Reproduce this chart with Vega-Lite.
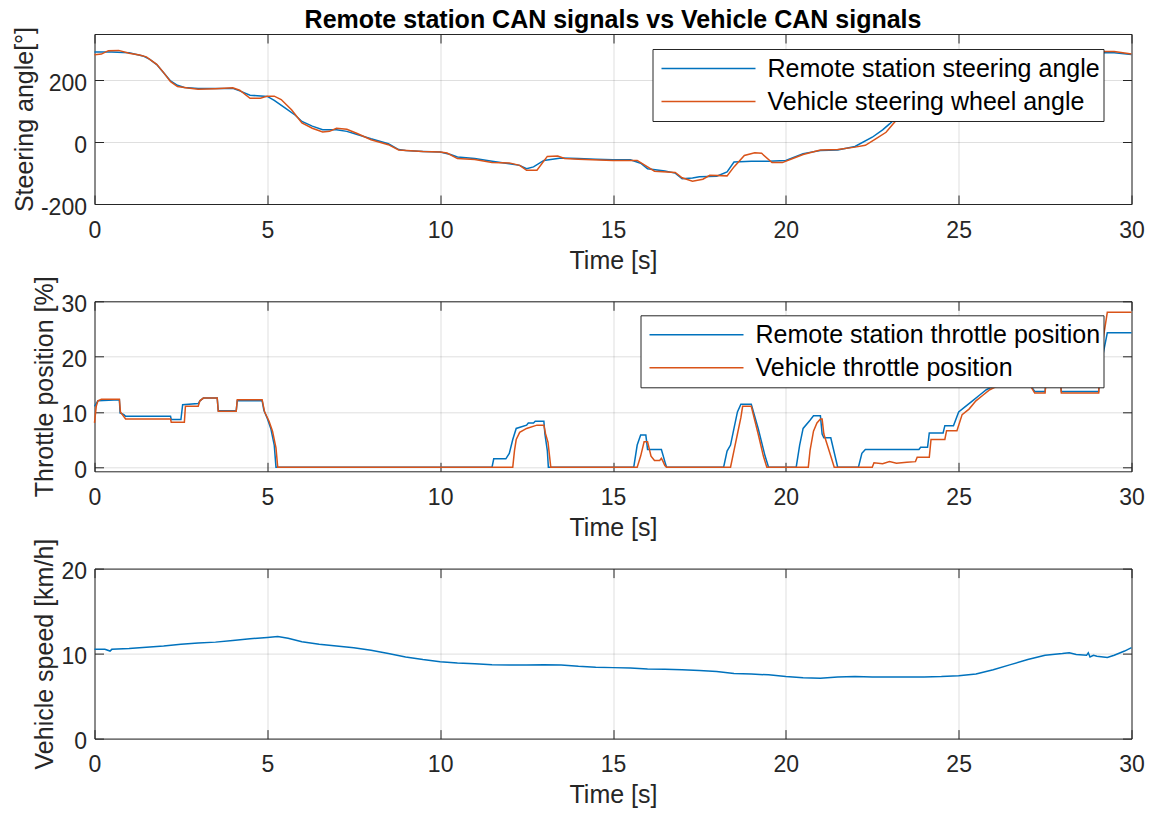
{
  "$schema": "https://vega.github.io/schema/vega-lite/v6.json",
  "padding": {"left": 11.5, "top": 7, "right": 5, "bottom": 5},
  "background": "white",
  "bounds": "flush",
  "spacing": 97.3,
  "resolve": {"scale": {"color": "independent"}, "legend": {"color": "independent"}},
  "config": {
    "font": "Liberation Sans",
    "view": {"stroke": "#262626", "strokeWidth": 1},
    "axis": {
      "labelFont": "Liberation Sans", "labelFontSize": 23, "labelColor": "#262626",
      "titleFont": "Liberation Sans", "titleFontSize": 25, "titleFontWeight": "normal", "titleColor": "#262626",
      "gridColor": "#262626", "gridOpacity": 0.15, "gridWidth": 1,
      "domain": false, "tickColor": "#262626", "tickSize": -9, "tickWidth": 1,
      "labelFlush": false, "labelOverlap": false, "labelBound": false,
      "labelExpr": "replace(datum.label, '\u2212', '-')"
    },
    "legend": {
      "orient": "none", "title": null, "symbolType": "stroke", "symbolSize": 8836, "symbolStrokeWidth": 1.5,
      "symbolOffset": 5, "labelOffset": 11, "labelFont": "Liberation Sans", "labelFontSize": 25, "labelColor": "#000000",
      "clipHeight": 33, "rowPadding": 0, "padding": 3, "strokeColor": "#262626", "fillColor": "white",
      "labelLimit": 1000, "labelExpr": "datum.label + ' '"
    }
  },
  "datasets": {
    "steer": [
      {"t":0,"v":292,"s":"Remote station steering angle"},{"t":0.5,"v":292,"s":"Remote station steering angle"},{"t":1.0,"v":289,"s":"Remote station steering angle"},{"t":1.4,"v":279,"s":"Remote station steering angle"},{"t":1.6,"v":268,"s":"Remote station steering angle"},{"t":1.8,"v":251,"s":"Remote station steering angle"},{"t":2.0,"v":225,"s":"Remote station steering angle"},{"t":2.2,"v":198,"s":"Remote station steering angle"},{"t":2.4,"v":184,"s":"Remote station steering angle"},{"t":2.6,"v":177,"s":"Remote station steering angle"},{"t":3.0,"v":174,"s":"Remote station steering angle"},{"t":3.5,"v":174,"s":"Remote station steering angle"},{"t":4.0,"v":174,"s":"Remote station steering angle"},{"t":4.2,"v":166,"s":"Remote station steering angle"},{"t":4.5,"v":152,"s":"Remote station steering angle"},{"t":5.0,"v":148,"s":"Remote station steering angle"},{"t":5.2,"v":135,"s":"Remote station steering angle"},{"t":5.5,"v":112,"s":"Remote station steering angle"},{"t":5.8,"v":88,"s":"Remote station steering angle"},{"t":6.0,"v":67,"s":"Remote station steering angle"},{"t":6.3,"v":52,"s":"Remote station steering angle"},{"t":6.6,"v":40,"s":"Remote station steering angle"},{"t":7.0,"v":40,"s":"Remote station steering angle"},{"t":7.3,"v":35,"s":"Remote station steering angle"},{"t":7.6,"v":25,"s":"Remote station steering angle"},{"t":8.0,"v":11,"s":"Remote station steering angle"},{"t":8.5,"v":-5,"s":"Remote station steering angle"},{"t":8.8,"v":-24,"s":"Remote station steering angle"},{"t":9.0,"v":-27,"s":"Remote station steering angle"},{"t":9.5,"v":-30,"s":"Remote station steering angle"},{"t":10.0,"v":-32,"s":"Remote station steering angle"},{"t":10.3,"v":-40,"s":"Remote station steering angle"},{"t":10.5,"v":-48,"s":"Remote station steering angle"},{"t":11.0,"v":-53,"s":"Remote station steering angle"},{"t":11.5,"v":-62,"s":"Remote station steering angle"},{"t":12.0,"v":-70,"s":"Remote station steering angle"},{"t":12.3,"v":-75,"s":"Remote station steering angle"},{"t":12.5,"v":-86,"s":"Remote station steering angle"},{"t":12.7,"v":-80,"s":"Remote station steering angle"},{"t":13.0,"v":-59,"s":"Remote station steering angle"},{"t":13.5,"v":-51,"s":"Remote station steering angle"},{"t":14.0,"v":-53,"s":"Remote station steering angle"},{"t":14.5,"v":-55,"s":"Remote station steering angle"},{"t":15.0,"v":-57,"s":"Remote station steering angle"},{"t":15.5,"v":-57,"s":"Remote station steering angle"},{"t":15.8,"v":-68,"s":"Remote station steering angle"},{"t":16.0,"v":-86,"s":"Remote station steering angle"},{"t":16.5,"v":-93,"s":"Remote station steering angle"},{"t":16.8,"v":-100,"s":"Remote station steering angle"},{"t":17.0,"v":-118,"s":"Remote station steering angle"},{"t":17.3,"v":-116,"s":"Remote station steering angle"},{"t":17.5,"v":-112,"s":"Remote station steering angle"},{"t":18.0,"v":-110,"s":"Remote station steering angle"},{"t":18.3,"v":-96,"s":"Remote station steering angle"},{"t":18.5,"v":-64,"s":"Remote station steering angle"},{"t":19.0,"v":-62,"s":"Remote station steering angle"},{"t":19.5,"v":-62,"s":"Remote station steering angle"},{"t":20.0,"v":-59,"s":"Remote station steering angle"},{"t":20.5,"v":-37,"s":"Remote station steering angle"},{"t":21.0,"v":-27,"s":"Remote station steering angle"},{"t":21.5,"v":-25,"s":"Remote station steering angle"},{"t":22.0,"v":-14,"s":"Remote station steering angle"},{"t":22.5,"v":16,"s":"Remote station steering angle"},{"t":22.8,"v":40,"s":"Remote station steering angle"},{"t":23.0,"v":59,"s":"Remote station steering angle"},{"t":23.3,"v":90,"s":"Remote station steering angle"},{"t":23.6,"v":130,"s":"Remote station steering angle"},{"t":24.0,"v":180,"s":"Remote station steering angle"},{"t":24.5,"v":240,"s":"Remote station steering angle"},{"t":25.0,"v":275,"s":"Remote station steering angle"},{"t":25.5,"v":286,"s":"Remote station steering angle"},{"t":26.0,"v":288,"s":"Remote station steering angle"},{"t":27.0,"v":289,"s":"Remote station steering angle"},{"t":28.0,"v":289,"s":"Remote station steering angle"},{"t":29.0,"v":290,"s":"Remote station steering angle"},{"t":29.5,"v":289,"s":"Remote station steering angle"},{"t":30.0,"v":284,"s":"Remote station steering angle"},
      {"t":0,"v":283,"s":"Vehicle steering wheel angle"},{"t":0.2,"v":285,"s":"Vehicle steering wheel angle"},{"t":0.4,"v":296,"s":"Vehicle steering wheel angle"},{"t":0.7,"v":297,"s":"Vehicle steering wheel angle"},{"t":1.0,"v":288,"s":"Vehicle steering wheel angle"},{"t":1.3,"v":282,"s":"Vehicle steering wheel angle"},{"t":1.5,"v":276,"s":"Vehicle steering wheel angle"},{"t":1.8,"v":252,"s":"Vehicle steering wheel angle"},{"t":2.0,"v":225,"s":"Vehicle steering wheel angle"},{"t":2.2,"v":196,"s":"Vehicle steering wheel angle"},{"t":2.4,"v":180,"s":"Vehicle steering wheel angle"},{"t":2.7,"v":175,"s":"Vehicle steering wheel angle"},{"t":3.0,"v":171,"s":"Vehicle steering wheel angle"},{"t":3.5,"v":173,"s":"Vehicle steering wheel angle"},{"t":4.0,"v":176,"s":"Vehicle steering wheel angle"},{"t":4.2,"v":168,"s":"Vehicle steering wheel angle"},{"t":4.5,"v":142,"s":"Vehicle steering wheel angle"},{"t":4.8,"v":142,"s":"Vehicle steering wheel angle"},{"t":5.0,"v":149,"s":"Vehicle steering wheel angle"},{"t":5.2,"v":149,"s":"Vehicle steering wheel angle"},{"t":5.4,"v":138,"s":"Vehicle steering wheel angle"},{"t":5.7,"v":105,"s":"Vehicle steering wheel angle"},{"t":6.0,"v":62,"s":"Vehicle steering wheel angle"},{"t":6.3,"v":45,"s":"Vehicle steering wheel angle"},{"t":6.6,"v":33,"s":"Vehicle steering wheel angle"},{"t":6.8,"v":35,"s":"Vehicle steering wheel angle"},{"t":7.0,"v":45,"s":"Vehicle steering wheel angle"},{"t":7.3,"v":42,"s":"Vehicle steering wheel angle"},{"t":7.6,"v":28,"s":"Vehicle steering wheel angle"},{"t":8.0,"v":8,"s":"Vehicle steering wheel angle"},{"t":8.5,"v":-8,"s":"Vehicle steering wheel angle"},{"t":8.8,"v":-25,"s":"Vehicle steering wheel angle"},{"t":9.5,"v":-30,"s":"Vehicle steering wheel angle"},{"t":10.0,"v":-32,"s":"Vehicle steering wheel angle"},{"t":10.2,"v":-35,"s":"Vehicle steering wheel angle"},{"t":10.5,"v":-53,"s":"Vehicle steering wheel angle"},{"t":11.0,"v":-56,"s":"Vehicle steering wheel angle"},{"t":11.5,"v":-66,"s":"Vehicle steering wheel angle"},{"t":12.0,"v":-67,"s":"Vehicle steering wheel angle"},{"t":12.3,"v":-75,"s":"Vehicle steering wheel angle"},{"t":12.5,"v":-91,"s":"Vehicle steering wheel angle"},{"t":12.8,"v":-91,"s":"Vehicle steering wheel angle"},{"t":13.1,"v":-46,"s":"Vehicle steering wheel angle"},{"t":13.4,"v":-45,"s":"Vehicle steering wheel angle"},{"t":13.6,"v":-53,"s":"Vehicle steering wheel angle"},{"t":14.0,"v":-55,"s":"Vehicle steering wheel angle"},{"t":15.0,"v":-59,"s":"Vehicle steering wheel angle"},{"t":15.7,"v":-59,"s":"Vehicle steering wheel angle"},{"t":16.0,"v":-80,"s":"Vehicle steering wheel angle"},{"t":16.2,"v":-94,"s":"Vehicle steering wheel angle"},{"t":16.8,"v":-98,"s":"Vehicle steering wheel angle"},{"t":17.0,"v":-115,"s":"Vehicle steering wheel angle"},{"t":17.3,"v":-126,"s":"Vehicle steering wheel angle"},{"t":17.6,"v":-120,"s":"Vehicle steering wheel angle"},{"t":17.8,"v":-107,"s":"Vehicle steering wheel angle"},{"t":18.3,"v":-109,"s":"Vehicle steering wheel angle"},{"t":18.5,"v":-80,"s":"Vehicle steering wheel angle"},{"t":18.8,"v":-43,"s":"Vehicle steering wheel angle"},{"t":19.1,"v":-34,"s":"Vehicle steering wheel angle"},{"t":19.3,"v":-36,"s":"Vehicle steering wheel angle"},{"t":19.6,"v":-66,"s":"Vehicle steering wheel angle"},{"t":19.9,"v":-66,"s":"Vehicle steering wheel angle"},{"t":20.2,"v":-53,"s":"Vehicle steering wheel angle"},{"t":20.5,"v":-40,"s":"Vehicle steering wheel angle"},{"t":21.0,"v":-25,"s":"Vehicle steering wheel angle"},{"t":21.5,"v":-24,"s":"Vehicle steering wheel angle"},{"t":22.0,"v":-16,"s":"Vehicle steering wheel angle"},{"t":22.3,"v":-10,"s":"Vehicle steering wheel angle"},{"t":22.6,"v":11,"s":"Vehicle steering wheel angle"},{"t":22.9,"v":32,"s":"Vehicle steering wheel angle"},{"t":23.1,"v":59,"s":"Vehicle steering wheel angle"},{"t":23.4,"v":95,"s":"Vehicle steering wheel angle"},{"t":23.7,"v":140,"s":"Vehicle steering wheel angle"},{"t":24.0,"v":180,"s":"Vehicle steering wheel angle"},{"t":24.5,"v":240,"s":"Vehicle steering wheel angle"},{"t":25.0,"v":275,"s":"Vehicle steering wheel angle"},{"t":25.5,"v":288,"s":"Vehicle steering wheel angle"},{"t":26.0,"v":290,"s":"Vehicle steering wheel angle"},{"t":28.0,"v":291,"s":"Vehicle steering wheel angle"},{"t":29.0,"v":293,"s":"Vehicle steering wheel angle"},{"t":29.5,"v":293,"s":"Vehicle steering wheel angle"},{"t":30.0,"v":285,"s":"Vehicle steering wheel angle"}
    ],
    "throttle": [
      {"t":0,"v":11.0,"s":"Remote station throttle position"},{"t":0.1,"v":12.0,"s":"Remote station throttle position"},{"t":0.72,"v":12.2,"s":"Remote station throttle position"},{"t":0.74,"v":9.8,"s":"Remote station throttle position"},{"t":0.85,"v":9.5,"s":"Remote station throttle position"},{"t":0.9,"v":9.2,"s":"Remote station throttle position"},{"t":2.2,"v":9.2,"s":"Remote station throttle position"},{"t":2.22,"v":8.6,"s":"Remote station throttle position"},{"t":2.5,"v":8.6,"s":"Remote station throttle position"},{"t":2.55,"v":11.3,"s":"Remote station throttle position"},{"t":3.0,"v":11.5,"s":"Remote station throttle position"},{"t":3.05,"v":12.0,"s":"Remote station throttle position"},{"t":3.15,"v":12.5,"s":"Remote station throttle position"},{"t":3.55,"v":12.5,"s":"Remote station throttle position"},{"t":3.58,"v":10.2,"s":"Remote station throttle position"},{"t":4.1,"v":10.2,"s":"Remote station throttle position"},{"t":4.13,"v":12.0,"s":"Remote station throttle position"},{"t":4.85,"v":12.0,"s":"Remote station throttle position"},{"t":4.9,"v":10.3,"s":"Remote station throttle position"},{"t":5.0,"v":8.8,"s":"Remote station throttle position"},{"t":5.1,"v":7.0,"s":"Remote station throttle position"},{"t":5.2,"v":4.0,"s":"Remote station throttle position"},{"t":5.25,"v":0,"s":"Remote station throttle position"},{"t":11.5,"v":0,"s":"Remote station throttle position"},{"t":11.55,"v":1.5,"s":"Remote station throttle position"},{"t":11.9,"v":1.5,"s":"Remote station throttle position"},{"t":12.0,"v":2.5,"s":"Remote station throttle position"},{"t":12.1,"v":5.0,"s":"Remote station throttle position"},{"t":12.2,"v":7.0,"s":"Remote station throttle position"},{"t":12.5,"v":7.6,"s":"Remote station throttle position"},{"t":12.55,"v":8.0,"s":"Remote station throttle position"},{"t":12.7,"v":8.0,"s":"Remote station throttle position"},{"t":12.75,"v":8.3,"s":"Remote station throttle position"},{"t":13.0,"v":8.3,"s":"Remote station throttle position"},{"t":13.03,"v":6.0,"s":"Remote station throttle position"},{"t":13.1,"v":3.0,"s":"Remote station throttle position"},{"t":13.13,"v":0,"s":"Remote station throttle position"},{"t":15.6,"v":0,"s":"Remote station throttle position"},{"t":15.7,"v":4.0,"s":"Remote station throttle position"},{"t":15.8,"v":5.8,"s":"Remote station throttle position"},{"t":15.95,"v":5.8,"s":"Remote station throttle position"},{"t":16.0,"v":3.2,"s":"Remote station throttle position"},{"t":16.4,"v":3.2,"s":"Remote station throttle position"},{"t":16.5,"v":1.0,"s":"Remote station throttle position"},{"t":16.55,"v":0,"s":"Remote station throttle position"},{"t":18.2,"v":0,"s":"Remote station throttle position"},{"t":18.3,"v":2.9,"s":"Remote station throttle position"},{"t":18.4,"v":4.0,"s":"Remote station throttle position"},{"t":18.5,"v":7.0,"s":"Remote station throttle position"},{"t":18.6,"v":10.0,"s":"Remote station throttle position"},{"t":18.7,"v":11.4,"s":"Remote station throttle position"},{"t":19.0,"v":11.4,"s":"Remote station throttle position"},{"t":19.2,"v":7.0,"s":"Remote station throttle position"},{"t":19.4,"v":2.0,"s":"Remote station throttle position"},{"t":19.5,"v":0,"s":"Remote station throttle position"},{"t":20.3,"v":0,"s":"Remote station throttle position"},{"t":20.4,"v":4.0,"s":"Remote station throttle position"},{"t":20.5,"v":7.0,"s":"Remote station throttle position"},{"t":20.7,"v":8.5,"s":"Remote station throttle position"},{"t":20.8,"v":9.3,"s":"Remote station throttle position"},{"t":21.0,"v":9.3,"s":"Remote station throttle position"},{"t":21.05,"v":6.0,"s":"Remote station throttle position"},{"t":21.1,"v":5.3,"s":"Remote station throttle position"},{"t":21.3,"v":5.3,"s":"Remote station throttle position"},{"t":21.5,"v":0,"s":"Remote station throttle position"},{"t":22.1,"v":0,"s":"Remote station throttle position"},{"t":22.2,"v":2.5,"s":"Remote station throttle position"},{"t":22.3,"v":3.2,"s":"Remote station throttle position"},{"t":23.85,"v":3.2,"s":"Remote station throttle position"},{"t":23.9,"v":3.6,"s":"Remote station throttle position"},{"t":24.1,"v":3.6,"s":"Remote station throttle position"},{"t":24.15,"v":6.2,"s":"Remote station throttle position"},{"t":24.55,"v":6.2,"s":"Remote station throttle position"},{"t":24.6,"v":7.5,"s":"Remote station throttle position"},{"t":24.85,"v":7.5,"s":"Remote station throttle position"},{"t":25.0,"v":10.0,"s":"Remote station throttle position"},{"t":25.2,"v":11.0,"s":"Remote station throttle position"},{"t":25.4,"v":12.0,"s":"Remote station throttle position"},{"t":25.6,"v":13.0,"s":"Remote station throttle position"},{"t":25.8,"v":14.0,"s":"Remote station throttle position"},{"t":26.0,"v":14.6,"s":"Remote station throttle position"},{"t":26.3,"v":15.5,"s":"Remote station throttle position"},{"t":27.0,"v":15.5,"s":"Remote station throttle position"},{"t":27.2,"v":13.7,"s":"Remote station throttle position"},{"t":27.5,"v":13.7,"s":"Remote station throttle position"},{"t":27.52,"v":15.0,"s":"Remote station throttle position"},{"t":27.95,"v":15.0,"s":"Remote station throttle position"},{"t":27.97,"v":13.7,"s":"Remote station throttle position"},{"t":29.05,"v":13.7,"s":"Remote station throttle position"},{"t":29.1,"v":18.0,"s":"Remote station throttle position"},{"t":29.3,"v":24.3,"s":"Remote station throttle position"},{"t":30.0,"v":24.3,"s":"Remote station throttle position"},
      {"t":0,"v":8.0,"s":"Vehicle throttle position"},{"t":0.05,"v":11.0,"s":"Vehicle throttle position"},{"t":0.1,"v":12.0,"s":"Vehicle throttle position"},{"t":0.2,"v":12.3,"s":"Vehicle throttle position"},{"t":0.72,"v":12.3,"s":"Vehicle throttle position"},{"t":0.75,"v":10.0,"s":"Vehicle throttle position"},{"t":0.9,"v":8.7,"s":"Vehicle throttle position"},{"t":2.2,"v":8.7,"s":"Vehicle throttle position"},{"t":2.22,"v":8.1,"s":"Vehicle throttle position"},{"t":2.6,"v":8.1,"s":"Vehicle throttle position"},{"t":2.63,"v":11.0,"s":"Vehicle throttle position"},{"t":3.0,"v":11.0,"s":"Vehicle throttle position"},{"t":3.05,"v":12.0,"s":"Vehicle throttle position"},{"t":3.15,"v":12.5,"s":"Vehicle throttle position"},{"t":3.55,"v":12.5,"s":"Vehicle throttle position"},{"t":3.58,"v":10.1,"s":"Vehicle throttle position"},{"t":4.1,"v":10.1,"s":"Vehicle throttle position"},{"t":4.13,"v":12.2,"s":"Vehicle throttle position"},{"t":4.85,"v":12.2,"s":"Vehicle throttle position"},{"t":4.92,"v":10.0,"s":"Vehicle throttle position"},{"t":5.05,"v":8.3,"s":"Vehicle throttle position"},{"t":5.15,"v":6.5,"s":"Vehicle throttle position"},{"t":5.25,"v":3.5,"s":"Vehicle throttle position"},{"t":5.3,"v":0,"s":"Vehicle throttle position"},{"t":12.1,"v":0,"s":"Vehicle throttle position"},{"t":12.15,"v":3.0,"s":"Vehicle throttle position"},{"t":12.2,"v":5.0,"s":"Vehicle throttle position"},{"t":12.3,"v":6.3,"s":"Vehicle throttle position"},{"t":12.5,"v":7.0,"s":"Vehicle throttle position"},{"t":12.8,"v":7.6,"s":"Vehicle throttle position"},{"t":13.0,"v":7.6,"s":"Vehicle throttle position"},{"t":13.05,"v":6.0,"s":"Vehicle throttle position"},{"t":13.12,"v":4.5,"s":"Vehicle throttle position"},{"t":13.2,"v":0,"s":"Vehicle throttle position"},{"t":15.7,"v":0,"s":"Vehicle throttle position"},{"t":15.8,"v":2.0,"s":"Vehicle throttle position"},{"t":15.9,"v":4.6,"s":"Vehicle throttle position"},{"t":16.0,"v":4.6,"s":"Vehicle throttle position"},{"t":16.1,"v":2.0,"s":"Vehicle throttle position"},{"t":16.2,"v":1.2,"s":"Vehicle throttle position"},{"t":16.35,"v":1.2,"s":"Vehicle throttle position"},{"t":16.4,"v":1.6,"s":"Vehicle throttle position"},{"t":16.45,"v":1.0,"s":"Vehicle throttle position"},{"t":16.5,"v":0.3,"s":"Vehicle throttle position"},{"t":16.55,"v":0,"s":"Vehicle throttle position"},{"t":18.4,"v":0,"s":"Vehicle throttle position"},{"t":18.5,"v":3.0,"s":"Vehicle throttle position"},{"t":18.6,"v":6.0,"s":"Vehicle throttle position"},{"t":18.7,"v":9.0,"s":"Vehicle throttle position"},{"t":18.75,"v":11.0,"s":"Vehicle throttle position"},{"t":19.0,"v":11.0,"s":"Vehicle throttle position"},{"t":19.2,"v":6.0,"s":"Vehicle throttle position"},{"t":19.35,"v":2.0,"s":"Vehicle throttle position"},{"t":19.45,"v":0,"s":"Vehicle throttle position"},{"t":20.65,"v":0,"s":"Vehicle throttle position"},{"t":20.7,"v":3.0,"s":"Vehicle throttle position"},{"t":20.8,"v":6.5,"s":"Vehicle throttle position"},{"t":20.9,"v":8.0,"s":"Vehicle throttle position"},{"t":21.0,"v":8.7,"s":"Vehicle throttle position"},{"t":21.05,"v":8.7,"s":"Vehicle throttle position"},{"t":21.1,"v":6.0,"s":"Vehicle throttle position"},{"t":21.2,"v":4.0,"s":"Vehicle throttle position"},{"t":21.3,"v":2.0,"s":"Vehicle throttle position"},{"t":21.4,"v":0,"s":"Vehicle throttle position"},{"t":22.5,"v":0,"s":"Vehicle throttle position"},{"t":22.55,"v":0.8,"s":"Vehicle throttle position"},{"t":22.8,"v":0.6,"s":"Vehicle throttle position"},{"t":23.0,"v":1.0,"s":"Vehicle throttle position"},{"t":23.2,"v":0.7,"s":"Vehicle throttle position"},{"t":23.5,"v":0.9,"s":"Vehicle throttle position"},{"t":23.75,"v":1.0,"s":"Vehicle throttle position"},{"t":23.8,"v":1.8,"s":"Vehicle throttle position"},{"t":24.15,"v":1.8,"s":"Vehicle throttle position"},{"t":24.2,"v":5.0,"s":"Vehicle throttle position"},{"t":24.6,"v":5.0,"s":"Vehicle throttle position"},{"t":24.65,"v":6.6,"s":"Vehicle throttle position"},{"t":24.95,"v":6.6,"s":"Vehicle throttle position"},{"t":25.1,"v":9.5,"s":"Vehicle throttle position"},{"t":25.3,"v":10.5,"s":"Vehicle throttle position"},{"t":25.5,"v":12.0,"s":"Vehicle throttle position"},{"t":25.7,"v":13.0,"s":"Vehicle throttle position"},{"t":25.9,"v":14.0,"s":"Vehicle throttle position"},{"t":26.1,"v":14.6,"s":"Vehicle throttle position"},{"t":26.4,"v":15.5,"s":"Vehicle throttle position"},{"t":27.0,"v":15.5,"s":"Vehicle throttle position"},{"t":27.2,"v":13.4,"s":"Vehicle throttle position"},{"t":27.5,"v":13.4,"s":"Vehicle throttle position"},{"t":27.52,"v":15.0,"s":"Vehicle throttle position"},{"t":27.95,"v":15.0,"s":"Vehicle throttle position"},{"t":27.97,"v":13.4,"s":"Vehicle throttle position"},{"t":29.05,"v":13.4,"s":"Vehicle throttle position"},{"t":29.1,"v":20.0,"s":"Vehicle throttle position"},{"t":29.3,"v":28.0,"s":"Vehicle throttle position"},{"t":30.0,"v":28.0,"s":"Vehicle throttle position"}
    ],
    "speed": [
      {"t":0,"v":10.5},{"t":0.3,"v":10.5},{"t":0.45,"v":10.3},{"t":0.5,"v":10.5},{"t":1,"v":10.6},{"t":1.5,"v":10.75},{"t":2,"v":10.9},{"t":2.5,"v":11.1},{"t":3,"v":11.25},{"t":3.5,"v":11.35},{"t":4,"v":11.55},{"t":4.5,"v":11.75},{"t":5,"v":11.9},{"t":5.3,"v":12.0},{"t":5.6,"v":11.8},{"t":6,"v":11.4},{"t":6.5,"v":11.1},{"t":7,"v":10.9},{"t":7.5,"v":10.7},{"t":8,"v":10.4},{"t":8.5,"v":10.0},{"t":9,"v":9.6},{"t":9.5,"v":9.3},{"t":10,"v":9.05},{"t":10.5,"v":8.9},{"t":11,"v":8.8},{"t":11.5,"v":8.7},{"t":12,"v":8.65},{"t":12.5,"v":8.65},{"t":13,"v":8.7},{"t":13.5,"v":8.65},{"t":14,"v":8.5},{"t":14.5,"v":8.4},{"t":15,"v":8.35},{"t":15.5,"v":8.3},{"t":16,"v":8.2},{"t":16.5,"v":8.15},{"t":17,"v":8.1},{"t":17.5,"v":8.0},{"t":18,"v":7.9},{"t":18.5,"v":7.65},{"t":19,"v":7.6},{"t":19.5,"v":7.5},{"t":20,"v":7.3},{"t":20.5,"v":7.15},{"t":21,"v":7.1},{"t":21.5,"v":7.25},{"t":22,"v":7.3},{"t":22.5,"v":7.25},{"t":23,"v":7.25},{"t":23.5,"v":7.25},{"t":24,"v":7.25},{"t":24.5,"v":7.3},{"t":25,"v":7.4},{"t":25.5,"v":7.6},{"t":26,"v":8.1},{"t":26.5,"v":8.7},{"t":27,"v":9.3},{"t":27.5,"v":9.8},{"t":28,"v":10.0},{"t":28.2,"v":10.1},{"t":28.4,"v":9.9},{"t":28.7,"v":9.8},{"t":28.75,"v":10.1},{"t":28.8,"v":9.6},{"t":28.9,"v":9.8},{"t":29.0,"v":9.7},{"t":29.3,"v":9.55},{"t":29.5,"v":9.8},{"t":29.8,"v":10.3},{"t":30,"v":10.7}
    ]
  },
  "vconcat": [
    {
      "width": 1037, "height": 170,
      "title": {"text": "Remote station CAN signals vs Vehicle CAN signals", "fontSize": 25, "fontWeight": "bold", "color": "#000000", "font": "Liberation Sans", "anchor": "middle", "frame": "group", "baseline": "alphabetic", "offset": -26.2},
      "data": {"name": "steer"},
      "resolve": {"axis": {"x": "independent", "y": "independent"}},
      "layer": [
        {
          "mark": {"type": "line", "strokeWidth": 1.5},
          "encoding": {
            "x": {"field": "t", "type": "quantitative", "scale": {"domain": [0, 30], "nice": false, "zero": false},
                  "axis": {"values": [0,5,10,15,20,25,30], "title": "Time [s]", "labelPadding": 24, "titlePadding": 6, "grid": true}},
            "y": {"field": "v", "type": "quantitative", "scale": {"domain": [-200, 350], "nice": false, "zero": false},
                  "axis": {"values": [-200, 0, 200], "title": "Steering angle[°]", "labelPadding": 17, "labelOffset": 3, "titlePadding": 3, "grid": true}},
            "color": {"field": "s", "type": "nominal",
                      "scale": {"domain": ["Remote station steering angle", "Vehicle steering wheel angle"], "range": ["#0072BD", "#D95319"]},
                      "legend": {"legendX": 558, "legendY": 15}}
          }
        },
        {
          "mark": {"type": "point", "opacity": 0},
          "encoding": {
            "x": {"field": "t", "type": "quantitative", "axis": {"orient": "top", "values": [0,5,10,15,20,25,30], "labels": false, "grid": false, "title": null}},
            "y": {"field": "v", "type": "quantitative", "axis": {"orient": "right", "values": [-200, 0, 200], "labels": false, "grid": false, "title": null}}
          }
        }
      ]
    },
    {
      "width": 1037, "height": 170,
      "data": {"name": "throttle"},
      "resolve": {"axis": {"x": "independent", "y": "independent"}},
      "layer": [
        {
          "mark": {"type": "line", "strokeWidth": 1.5},
          "encoding": {
            "x": {"field": "t", "type": "quantitative", "scale": {"domain": [0, 30], "nice": false, "zero": false},
                  "axis": {"values": [0,5,10,15,20,25,30], "title": "Time [s]", "labelPadding": 24, "titlePadding": 6, "grid": true}},
            "y": {"field": "v", "type": "quantitative", "scale": {"domain": [-0.75, 30], "nice": false, "zero": false},
                  "axis": {"values": [0, 10, 20, 30], "title": "Throttle position [%]", "labelPadding": 17, "labelOffset": 3, "titlePadding": 3, "grid": true}},
            "color": {"field": "s", "type": "nominal",
                      "scale": {"domain": ["Remote station throttle position", "Vehicle throttle position"], "range": ["#0072BD", "#D95319"]},
                      "legend": {"legendX": 546, "legendY": 14}}
          }
        },
        {
          "mark": {"type": "point", "opacity": 0},
          "encoding": {
            "x": {"field": "t", "type": "quantitative", "axis": {"orient": "top", "values": [0,5,10,15,20,25,30], "labels": false, "grid": false, "title": null}},
            "y": {"field": "v", "type": "quantitative", "axis": {"orient": "right", "values": [0, 10, 20, 30], "labels": false, "grid": false, "title": null}}
          }
        }
      ]
    },
    {
      "width": 1037, "height": 170,
      "data": {"name": "speed"},
      "resolve": {"axis": {"x": "independent", "y": "independent"}},
      "layer": [
        {
          "mark": {"type": "line", "strokeWidth": 1.5, "color": "#0072BD"},
          "encoding": {
            "x": {"field": "t", "type": "quantitative", "scale": {"domain": [0, 30], "nice": false, "zero": false},
                  "axis": {"values": [0,5,10,15,20,25,30], "title": "Time [s]", "labelPadding": 24, "titlePadding": 6, "grid": true}},
            "y": {"field": "v", "type": "quantitative", "scale": {"domain": [0, 20], "nice": false, "zero": false},
                  "axis": {"values": [0, 10, 20], "title": "Vehicle speed [km/h]", "labelPadding": 17, "labelOffset": 3, "titlePadding": 3, "grid": true}}
          }
        },
        {
          "mark": {"type": "point", "opacity": 0},
          "encoding": {
            "x": {"field": "t", "type": "quantitative", "axis": {"orient": "top", "values": [0,5,10,15,20,25,30], "labels": false, "grid": false, "title": null}},
            "y": {"field": "v", "type": "quantitative", "axis": {"orient": "right", "values": [0, 10, 20], "labels": false, "grid": false, "title": null}}
          }
        }
      ]
    }
  ]
}
